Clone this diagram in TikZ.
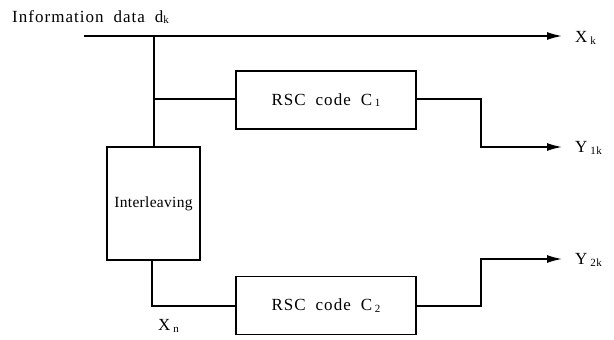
\documentclass[tikz,border=0pt]{standalone}
\usepackage{fontspec}
\setmainfont{Liberation Serif}
\usetikzlibrary{arrows.meta}
\newcommand{\mysub}[1]{\raisebox{-1.5pt}{\fontsize{11}{11}\selectfont #1}}
\newcommand{\wsp}{\hspace{10pt}}
\begin{document}
\begin{tikzpicture}[x=1pt,y=-1pt,
  wire/.style={line width=1.5pt},
  arr/.style={wire,-{Latex[length=15pt,width=8pt]}},
  blk/.style={draw,line width=1.5pt,minimum width=180pt,minimum height=58pt,inner sep=0pt},
  lbl/.style={font=\fontsize{17}{20}\selectfont\addfontfeature{LetterSpace=6},inner sep=0pt},
  every node/.style={lbl}]
\useasboundingbox (0,0) rectangle (614,340);
\node[anchor=west] (title) at (12,17) {Information\wsp data\wsp d\mysub{k}};
\coordinate (start) at (84,36);
\coordinate (j1) at (154,36);
\coordinate (j2) at (154,99);
\node[blk] (c1) at (326,100) {RSC\wsp code\wsp C\,\mysub{1}};
\node[blk,minimum width=93pt,minimum height=113pt] (il) at (153.5,203.5) {\fontsize{15.5}{18}\selectfont\addfontfeature{LetterSpace=2}Interleaving};
\node[blk] (c2) at (326,305.5) {RSC\wsp code\wsp C\,\mysub{2}};
\node[anchor=west] (xk) at (575,38) {X\,\mysub{k}};
\node[anchor=west] (y1) at (575,148) {Y\,\mysub{1k}};
\node[anchor=west] (y2) at (575,260) {Y\,\mysub{2k}};
\node[anchor=west] (xn) at (158,326) {X\,\mysub{n}};
\coordinate (e1) at (481,99);
\coordinate (e2) at (481,147);
\coordinate (f1) at (481,306);
\coordinate (f2) at (481,259);
\coordinate (g1) at (152,306);
\draw[arr] (start) -- (start -| 562,0);
\draw[wire] (j1) -- (il.north -| j1);
\draw[wire] (j2) -- (j2 -| c1.west);
\draw[arr] (c1.east |- e1) -- (e1) -- (e2) -- (e2 -| 562,0);
\draw[wire] (il.south -| g1) -- (g1) -- (g1 -| c2.west);
\draw[arr] (c2.east |- f1) -- (f1) -- (f2) -- (f2 -| 562,0);
\end{tikzpicture}
\end{document}
